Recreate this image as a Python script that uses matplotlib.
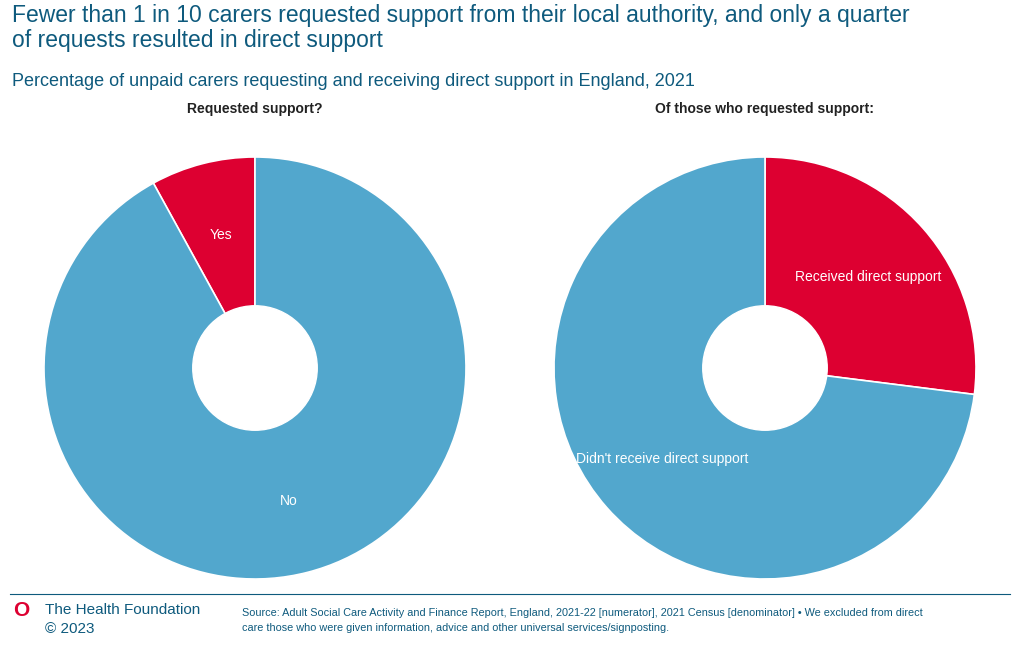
import matplotlib.pyplot as plt
from matplotlib.patches import Circle

left_labels = ['Yes', 'No']
left_values = [8, 92]
right_labels = ['Received direct support', "Didn't receive direct support"]
right_values = [27, 73]

RED = '#dd0031'
BLUE = '#52a7cd'
TEAL = '#0e5a7d'

W, H = 1020, 650
fig = plt.figure(figsize=(W / 100, H / 100), dpi=100)
plt.rcParams['font.family'] = ['Liberation Sans', 'DejaVu Sans']


def pie_axes(cx, cy, r):
    return fig.add_axes([(cx - r) / W, (H - cy - r) / H, 2 * r / W, 2 * r / H])


def draw(ax, values, labels, ccw, title):
    wedges, texts = ax.pie(values, labels=labels, colors=[RED, BLUE], startangle=90,
                           counterclock=ccw, labeldistance=0.65,
                           wedgeprops=dict(edgecolor='white', linewidth=1.2),
                           textprops=dict(color='white', fontsize=10, ha='center', va='center'))
    ax.add_patch(Circle((0, 0), 0.295, color='white', zorder=5))
    ax.set_xlim(-1, 1)
    ax.set_ylim(-1, 1)
    ax.set_aspect('equal')
    ax.set_title(title, fontsize=10, fontweight='bold', color='#222222', pad=32)


ax1 = pie_axes(255, 368, 211)
draw(ax1, left_values, left_labels, True, 'Requested support?')
ax2 = pie_axes(765, 368, 211)
draw(ax2, right_values, right_labels, False, 'Of those who requested support:')

fig.text(12 / W, 1 - 28 / H, 'Fewer than 1 in 10 carers requested support from their local authority, and only a quarter\nof requests resulted in direct support',
         fontsize=16.5, color=TEAL, va='center', linespacing=1.15)
fig.text(12 / W, 1 - 82 / H, 'Percentage of unpaid carers requesting and receiving direct support in England, 2021',
         fontsize=13, color=TEAL, va='center')

fig.add_artist(plt.Line2D([10 / W, 1010 / W], [1 - 594 / H, 1 - 594 / H], color=TEAL, linewidth=0.8))
fig.add_artist(Circle((21 / W, 1 - 611 / H), 0.0, transform=fig.transFigure))
fig.text(21 / W, 1 - 611 / H, 'O', fontsize=15, fontweight='bold', color=RED, ha='center', va='center')
fig.text(45 / W, 1 - 610 / H, 'The Health Foundation', fontsize=11, color=TEAL, va='center')
fig.text(45 / W, 1 - 629 / H, '\u00a9 2023', fontsize=11, color=TEAL, va='center')
fig.text(242 / W, 1 - 613 / H, 'Source: Adult Social Care Activity and Finance Report, England, 2021-22 [numerator], 2021 Census [denominator] \u2022 We excluded from direct',
         fontsize=7.8, color=TEAL, va='center')
fig.text(242 / W, 1 - 628 / H, 'care those who were given information, advice and other universal services/signposting.',
         fontsize=7.8, color=TEAL, va='center')

fig.savefig('out.png', dpi=100)
